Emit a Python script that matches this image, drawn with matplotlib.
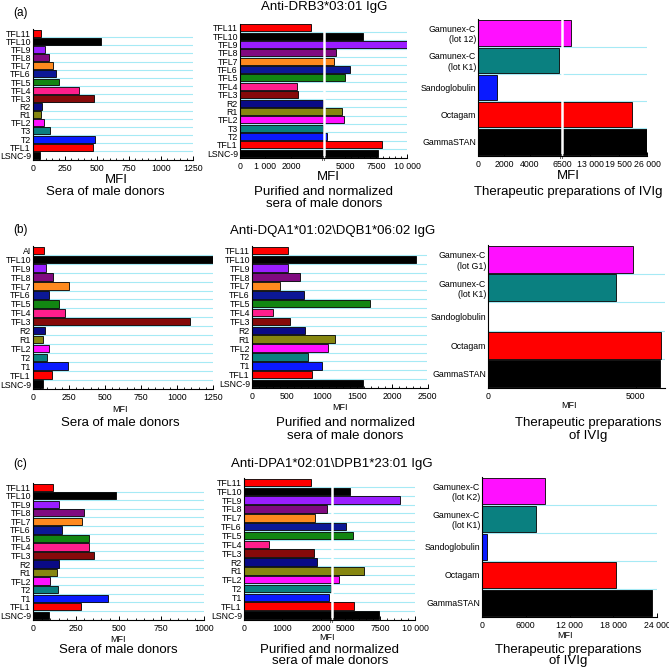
import numpy as np
import matplotlib
matplotlib.use("Agg")
import matplotlib.pyplot as plt
import matplotlib.transforms as mtransforms

plt.rcParams['font.family'] = ['Liberation Sans', 'DejaVu Sans']

# ---------------- data ----------------
cats_a = ['LSNC-9', 'TFL1', 'T2', 'T3', 'TFL2', 'R1', 'R2', 'TFL3', 'TFL4', 'TFL5',
          'TFL6', 'TFL7', 'TFL8', 'TFL9', 'TFL10', 'TFL11']
sera_a = [58, 465, 486, 133, 86, 65, 71, 476, 361, 201, 180, 160, 123, 94, 528, 65]
purified_a = [7600, 7980, 3570, 3250, 4940, 4750, 3250, 2290, 2230, 4970, 5400, 4080,
              4270, 10000, 6390, 2790]
ivig_cats_a = ['GammaSTAN', 'Octagam', 'Sandoglobulin', 'Gamunex-C\n(lot K1)', 'Gamunex-C\n(lot 12)']
ivig_a = [26000, 22500, 1450, 6300, 8500]

cats_b_sera = ['LSNC-9', 'TFL1', 'T1', 'T2', 'TFL2', 'R1', 'R2', 'TFL3', 'TFL4', 'TFL5',
               'TFL6', 'TFL7', 'TFL8', 'TFL9', 'TFL10', 'AI']
cats_b = ['LSNC-9', 'TFL1', 'T1', 'T2', 'TFL2', 'R1', 'R2', 'TFL3', 'TFL4', 'TFL5',
          'TFL6', 'TFL7', 'TFL8', 'TFL9', 'TFL10', 'TFL11']
sera_b = [69, 134, 243, 100, 113, 69, 86, 1088, 222, 181, 111, 248, 139, 93, 1250, 76]
purified_b = [1583, 855, 1003, 798, 1088, 1179, 751, 537, 299, 1678, 746, 404, 680, 508,
              2343, 513]
ivig_cats_b = ['GammaSTAN', 'Octagam', 'Sandoglobulin', 'Gamunex-C\n(lot K1)', 'Gamunex-C\n(lot G1)']
ivig_b = [5822, 5878, 0, 4347, 4899]

cats_c = ['LSNC-9', 'TFL1', 'T1', 'T2', 'TFL2', 'R1', 'R2', 'TFL3', 'TFL4', 'TFL5',
          'TFL6', 'TFL7', 'TFL8', 'TFL9', 'TFL10', 'TFL11']
sera_c = [92, 283, 436, 145, 100, 141, 150, 354, 328, 328, 168, 289, 299, 154, 488, 117]
purified_c = [7450, 5640, 2220, 2270, 4570, 6380, 1910, 1820, 660, 5550, 5070, 1860, 2170,
              8930, 5360, 1740]
ivig_cats_c = ['GammaSTAN', 'Octagam', 'Sandoglobulin', 'Gamunex-C\n(lot K1)', 'Gamunex-C\n(lot K2)']
ivig_c = [23300, 18350, 690, 7390, 8620]

donor_colors = ['#000000', '#ff0000', '#0a1aff', '#0a8080', '#ff10ff', '#868610', '#0a0a86',
                '#860a0a', '#ff1e8c', '#128612', '#0c1896', '#ff8a1e', '#800a80', '#9a1eff',
                '#000000', '#ff0000']
ivig_colors = ['#000000', '#ff0000', '#0a1aff', '#0a8080', '#ff10ff']

GRID = '#a6eaf5'
W = H = 669.0
fig = plt.figure(figsize=(6.69, 6.69), dpi=100)


def px_axes(x0, x1, y0, y1):
    return fig.add_axes([x0 / W, 1 - y1 / H, (x1 - x0) / W, (y1 - y0) / H])


def piecewise(vp, up):
    vp = np.asarray(vp, float)
    up = np.asarray(up, float)

    def f(a, b, v):
        v = np.asarray(v, float)
        out = np.interp(v, a, b)
        lo_s = (b[1] - b[0]) / (a[1] - a[0])
        hi_s = (b[-1] - b[-2]) / (a[-1] - a[-2])
        out = np.where(v < a[0], b[0] + (v - a[0]) * lo_s, out)
        out = np.where(v > a[-1], b[-1] + (v - a[-1]) * hi_s, out)
        return out
    return (lambda v: f(vp, up, v)), (lambda u: f(up, vp, u))


def panel(ax, cats, vals, colors, xmax, ticks, ticklabels, minor=None, height=0.85,
          scale=None, brk=None, fs=6.3):
    n = len(cats)
    if scale is not None:
        ax.set_xscale('function', functions=piecewise(*scale))
    ax.set_axisbelow(True)
    y = np.arange(n)
    for k in range(n - 1):
        ax.axhline(k + 0.5, color=GRID, lw=0.8, zorder=0.3)
    ax.barh(y, vals, height=height, color=colors, edgecolor='black', linewidth=0.6, zorder=2)
    ax.set_xlim(0, xmax)
    ax.set_ylim(-0.5, n - 0.5)
    ax.set_yticks(y)
    ax.set_yticklabels(cats, fontsize=fs)
    ax.tick_params(axis='y', length=0, pad=1.5)
    ax.set_xticks(ticks)
    ax.set_xticklabels(ticklabels, fontsize=fs)
    if minor is not None:
        ax.set_xticks(minor, minor=True)
    else:
        ax.set_xticks([], minor=True)
    ax.tick_params(axis='x', which='major', direction='in', length=3, width=0.7, pad=3)
    ax.tick_params(axis='x', which='minor', direction='in', length=1.8, width=0.6)
    for s in ('top', 'right'):
        ax.spines[s].set_visible(False)
    for s in ('left', 'bottom'):
        ax.spines[s].set_linewidth(0.8)
    if brk is not None:
        ax.axvline(brk, color='white', lw=1.8, zorder=2.2)
        tr = mtransforms.blended_transform_factory(ax.transData, ax.transAxes)
        ax.text(brk, -0.015, '//', transform=tr, ha='center', va='center', fontsize=5,
                zorder=5)


def ftext(x, y, s, size, **kw):
    fig.text(x / W, 1 - y / H, s, ha='center', va='center', fontsize=size, **kw)


# ---------------- row (a) ----------------
ax = px_axes(33, 193, 29, 159.5)
panel(ax, cats_a, sera_a, donor_colors, 1250, [0, 250, 500, 750, 1000, 1250],
      ['0', '250', '500', '750', '1000', '1250'], minor=np.arange(0, 1251, 50))
ax = px_axes(240, 407.5, 23.5, 157.5)
panel(ax, cats_a, purified_a, donor_colors, 10000, [0, 1000, 2000, 5000, 7500, 10000],
      ['0', '1 000', '2000', '5000', '7500', '10 000'], minor=np.arange(5000, 10001, 500),
      scale=([0, 3300, 10000], [0, 84, 167.5]), brk=3300)
ax = px_axes(478, 647, 19.5, 155.5)
panel(ax, ivig_cats_a, ivig_a, ivig_colors, 26000, [0, 2000, 4000, 6500, 13000, 19500, 26000],
      ['0', '2000', '4000', '6500', '13 000', '19 500', '26 000'], height=0.94,
      scale=([0, 6500, 26000], [0, 84, 169]), brk=6500)

ftext(20, 13, '(a)', 8.5)
ftext(116, 180, 'MFI', 9.5)
ftext(105, 192, 'Sera of male donors', 9.5)
ftext(324, 7, 'Anti-DRB3*03:01 IgG', 9.5)
ftext(328, 177, 'MFI', 9.5)
ftext(324, 192, 'Purified and normalized', 9.5)
ftext(324, 204, 'sera of male donors', 9.5)
ftext(568, 176, 'MFI', 9.5)
ftext(568, 192, 'Therapeutic preparations of IVIg', 9.5)

# ---------------- row (b) ----------------
ax = px_axes(33, 213, 246, 388.5)
panel(ax, cats_b_sera, sera_b, donor_colors, 1250, [0, 250, 500, 750, 1000, 1250],
      ['0', '250', '500', '750', '1000', '1250'], minor=np.arange(0, 1251, 50))
ax = px_axes(252, 427.5, 246, 388)
panel(ax, cats_b, purified_b, donor_colors, 2500, [0, 500, 1000, 1500, 2000, 2500],
      ['0', '500', '1000', '1500', '2000', '2500'], minor=np.arange(0, 2501, 100))
ax = px_axes(488, 665, 245, 388)
panel(ax, ivig_cats_b, ivig_b, ivig_colors, 6000, [0, 5000], ['0', '5000'], height=0.94)

ftext(20, 230, '(b)', 8.5)
ftext(120, 410, 'MFI', 6.5)
ftext(120, 423, 'Sera of male donors', 9.5)
ftext(333, 231, 'Anti-DQA1*01:02\\DQB1*06:02 IgG', 9.5)
ftext(340, 407, 'MFI', 6.5)
ftext(345, 423, 'Purified and normalized', 9.5)
ftext(345, 436, 'sera of male donors', 9.5)
ftext(569, 405, 'MFI', 6.5)
ftext(588, 423, 'Therapeutic preparations', 9.5)
ftext(588, 436, 'of IVIg', 9.5)

# ---------------- row (c) ----------------
ax = px_axes(33, 204, 483, 619.5)
panel(ax, cats_c, sera_c, donor_colors, 1000, [0, 250, 500, 750, 1000],
      ['0', '250', '500', '750', '1000'], minor=np.arange(0, 1001, 50))
ax = px_axes(244, 415, 478, 619.5)
panel(ax, cats_c, purified_c, donor_colors, 10000, [0, 1000, 2000, 5000, 7500, 10000],
      ['0', '1000', '2000', '5000', '7500', '10 000'], minor=np.arange(5000, 10001, 500),
      scale=([0, 2290, 4070, 10000], [0, 88, 88.01, 171]), brk=2290)
ax = px_axes(482, 657, 477, 617)
panel(ax, ivig_cats_c, ivig_c, ivig_colors, 24000, [0, 6000, 12000, 18000, 24000],
      ['0', '6000', '12 000', '18 000', '24 000'], height=0.94)

ftext(20, 464, '(c)', 8.5)
ftext(118, 640, 'MFI', 6.5)
ftext(118, 650, 'Sera of male donors', 9.5)
ftext(332, 464, 'Anti-DPA1*02:01\\DPB1*23:01 IgG', 9.5)
ftext(327, 637, 'MFI', 6.5)
ftext(330, 650, 'Purified and normalized', 9.5)
ftext(330, 661, 'sera of male donors', 9.5)
ftext(565, 635, 'MFI', 6.5)
ftext(568, 650, 'Therapeutic preparations', 9.5)
ftext(568, 661, 'of IVIg', 9.5)

fig.savefig('out.png', dpi=100)
